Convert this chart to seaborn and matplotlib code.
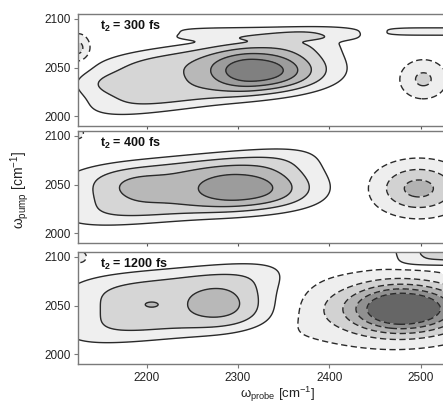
import numpy as np
import matplotlib
matplotlib.use("Agg")
import matplotlib.pyplot as plt
import seaborn as sns

sns.set_theme(style="white")
plt.rcParams['font.family'] = ['Liberation Sans', 'DejaVu Sans']
plt.rcParams['mathtext.fontset'] = 'custom'
plt.rcParams['mathtext.rm'] = 'Liberation Sans'
plt.rcParams['mathtext.it'] = 'Liberation Sans'
plt.rcParams['mathtext.bf'] = 'Liberation Sans:bold'

# ---- data: spectral components (per panel) ----
panel_labels = ["300", "400", "1200"]

# panel 1: t2 = 300 fs
p1_x0 = [2316, 2270, 2160, 2328, 2522, 2503, 2125]
p1_y0 = [2047, 2044, 2033, 2085, 2087, 2038, 2070]
p1_sxl = [32, 105, 25, 95, 55, 18, 9]
p1_sxr = [45, 110, 25, 95, 55, 18, 9]
p1_sy = [13, 26, 8, 6, 4, 14, 10]
p1_amp = [0.5, 0.37, 0.12, 0.15, 0.15, -0.28, -0.3]
p1_pow = [2, 4, 2, 4, 4, 2, 2]
p1_tilt = [0, 0.12, 0, 0, 0, 0, 0]

# panel 2: t2 = 400 fs
p2_x0 = [2300, 2190, 2260, 2498, 2125]
p2_y0 = [2046, 2047, 2048, 2046, 2103]
p2_sxl = [40, 25, 120, 33, 5]
p2_sxr = [55, 25, 100, 33, 5]
p2_sy = [14, 10, 26, 18, 5]
p2_amp = [0.3, 0.1, 0.38, -0.45, -0.2]
p2_pow = [2, 2, 4, 2, 2]
p2_tilt = [0, 0, 0.08, 0, 0]

# panel 3: t2 = 1200 fs
p3_x0 = [2283, 2240, 2205, 2482, 2445, 2525, 2127]
p3_y0 = [2051, 2053, 2051, 2047, 2045, 2101, 2100]
p3_sxl = [30, 105, 8, 38, 80, 45, 6]
p3_sxr = [30, 95, 8, 45, 80, 45, 6]
p3_sy = [15, 29, 3, 17, 25, 9, 5]
p3_amp = [0.18, 0.33, 0.1, -0.8, -0.25, 0.28, -0.2]
p3_pow = [2, 4, 2, 2, 2, 4, 2]
p3_tilt = [0, 0.08, 0, 0, 0, 0, 0]

panels = [
    (p1_x0, p1_y0, p1_sxl, p1_sxr, p1_sy, p1_amp, p1_pow, p1_tilt),
    (p2_x0, p2_y0, p2_sxl, p2_sxr, p2_sy, p2_amp, p2_pow, p2_tilt),
    (p3_x0, p3_y0, p3_sxl, p3_sxr, p3_sy, p3_amp, p3_pow, p3_tilt),
]

levels_pos = [0.1, 0.25, 0.4, 0.55, 0.7]
pos_grays = ["#efefef", "#d6d6d6", "#b8b8b8", "#9c9c9c", "#808080"]
neg_grays = ["#eeeeee", "#d2d2d2", "#b2b2b2", "#909090", "#666666"]

x_ticks = [2200, 2300, 2400, 2500]
y_ticks = [2000, 2050, 2100]

xg = np.linspace(2115, 2540, 400)
yg = np.linspace(1985, 2112, 220)
X, Y = np.meshgrid(xg, yg)


def field(x0, y0, sxl, sxr, sy, amp, pw, tilt):
    Z = np.zeros_like(X)
    for a, b, cl, cr, d, A, p, t in zip(x0, y0, sxl, sxr, sy, amp, pw, tilt):
        sx = np.where(X < a, cl, cr)
        yc = b + t * (X - a)
        Z += A * np.exp(-0.5 * (np.abs((X - a) / sx) ** p + np.abs((Y - yc) / d) ** p))
    return Z


W, H = 443, 405
fig = plt.figure(figsize=(W / 100, H / 100), dpi=100)

tops = [14, 131, 252]
ph = 112
left_px, right_px = 78, 448

big = 10.0
lv = [-big] + [-l for l in levels_pos[::-1]] + levels_pos + [big]
cols = neg_grays[::-1] + ["#ffffff"] + pos_grays

for i, (params, lab, top) in enumerate(zip(panels, panel_labels, tops)):
    ax = fig.add_axes([left_px / W, 1 - (top + ph) / H, (right_px - left_px) / W, ph / H])
    Z = field(*params)
    ax.contourf(X, Y, Z, levels=lv, colors=cols)
    ax.contour(X, Y, Z, levels=levels_pos, colors="#2a2a2a", linewidths=1.0,
               linestyles="solid")
    ax.contour(X, Y, Z, levels=[-l for l in levels_pos[::-1]], colors="#2a2a2a",
               linewidths=1.0, linestyles=[(0, (4.5, 2.5))])
    ax.set_xlim(2125, 2530)
    ax.set_ylim(1990, 2105)
    ax.set_xticks(x_ticks)
    ax.set_yticks(y_ticks)
    for s in ax.spines.values():
        s.set_color("#7a7a7a")
        s.set_linewidth(1.0)
    ax.tick_params(axis="y", direction="out", length=3, width=0.8, color="#7a7a7a",
                   labelsize=8.5, pad=2, left=True, labelcolor="#222222")
    if i < 2:
        ax.tick_params(axis="x", direction="inout", length=5, width=0.8, color="#555555",
                       labelbottom=False, bottom=True)
    else:
        ax.tick_params(axis="x", direction="out", length=3, width=0.8, color="#7a7a7a",
                       labelsize=8.5, pad=3, bottom=True, labelcolor="#222222")
    ax.text(0.06, 0.955, r"t$_\mathbf{2}$ = " + lab + " fs", transform=ax.transAxes,
            fontsize=9, fontweight="bold", va="top", ha="left", color="#111111")
    ax.grid(False)

fig.text(20 / W, 1 - 190 / H, r"$\omega_{\mathrm{pump}}$ [cm$^{-1}$]", rotation=90,
         ha="center", va="center", fontsize=10, color="#222222")
fig.text(278 / W, 1 - 394 / H, r"$\omega_{\mathrm{probe}}$ [cm$^{-1}$]",
         ha="center", va="center", fontsize=9.5, color="#222222")

fig.savefig("out.png", dpi=100)
